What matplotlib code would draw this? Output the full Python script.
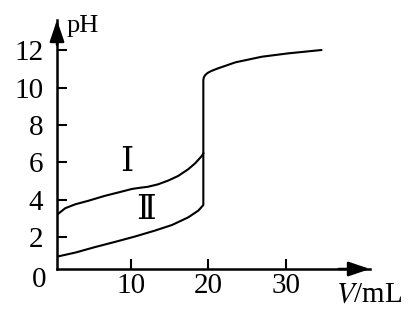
import matplotlib
matplotlib.use("Agg")
from matplotlib import pyplot as plt

# curve I (weak acid)
v_1 = [0.4, 1.5, 2.8, 4.5, 6.6, 8.8, 10.1, 10.9, 12.2, 13.5, 14.8, 16.1, 17.4, 18.3, 19.15, 19.35]
ph_1 = [3.18, 3.54, 3.75, 3.94, 4.20, 4.43, 4.57, 4.62, 4.69, 4.82, 5.02, 5.27, 5.63, 5.95, 6.34, 6.48]

# curve II (strong acid) + jump + common tail
v_2 = [0.4, 2.8, 5.3, 7.9, 10.5, 13.1, 15.3, 17.4, 18.7, 19.35,
       19.35, 19.42, 19.6, 19.9, 20.4, 21.2, 23.5, 26.9, 30.3, 34.6]
ph_2 = [0.94, 1.16, 1.45, 1.73, 2.02, 2.34, 2.64, 3.05, 3.41, 3.71,
        10.41, 10.56, 10.68, 10.79, 10.90, 11.03, 11.36, 11.66, 11.84, 12.02]

x_ticks = [10, 20, 30]
y_ticks = [2, 4, 6, 8, 10, 12]

serif = ['Liberation Serif', 'DejaVu Serif']
plt.rcParams['font.family'] = serif
plt.rcParams['mathtext.fontset'] = 'stix'

fig = plt.figure(figsize=(4.16, 3.12), dpi=100)
ax = fig.add_axes([57 / 416, 43 / 312, (370 - 57) / 416, (269 - 20) / 312])

ax.plot(v_1, ph_1, color='k', lw=1.5)
ax.plot(v_2, ph_2, color='k', lw=1.5)

ax.set_xlim(0.43, 40.9)
ax.set_ylim(0.28, 13.63)

for s in ['top', 'right']:
    ax.spines[s].set_visible(False)
for s in ['left', 'bottom']:
    ax.spines[s].set_linewidth(1.8)

ax.set_xticks(x_ticks)
ax.set_yticks(y_ticks)
ax.tick_params(axis='both', direction='in', length=7, width=1.5, labelsize=21)
ax.tick_params(axis='y', pad=10)
ax.tick_params(axis='x', pad=3)

# axis arrows
arr = dict(arrowstyle='-|>,head_length=0.65,head_width=0.22', mutation_scale=20,
           lw=1.8, color='k', shrinkA=0, shrinkB=0)
ax.annotate('', xy=(0, 1), xytext=(0, 0.9), xycoords='axes fraction', arrowprops=arr)
ax.annotate('', xy=(1, 0), xytext=(0.9, 0), xycoords='axes fraction', arrowprops=arr)

ax.text(-0.058, -0.045, '0', transform=ax.transAxes, fontsize=21, ha='center', va='center')
ax.text(0.03, 0.975, 'pH', transform=ax.transAxes, fontsize=19, ha='left', va='center')
ax.text(0.89, -0.05, '$\\mathit{V}$/mL', transform=ax.transAxes, fontsize=21, ha='left', va='top')

ax.text(9.5, 5.97, 'Ⅰ', fontsize=24, ha='center', va='center', family=serif)
ax.text(11.9, 3.4, 'Ⅱ', fontsize=24, ha='center', va='center', family=serif)

fig.savefig('out.png', dpi=100)
